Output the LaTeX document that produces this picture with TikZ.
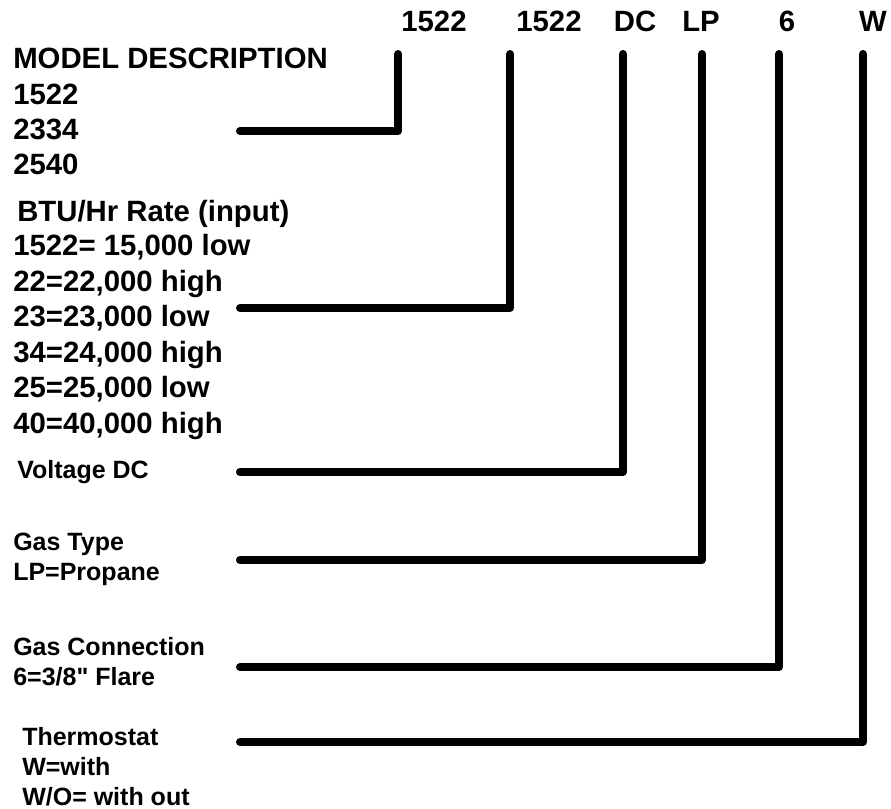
\documentclass[tikz,border=0pt]{standalone}
\usepackage{fontspec}
\setmainfont{Liberation Sans}[Ligatures=TeXOff]
\usetikzlibrary{positioning}

\begin{document}
\begin{tikzpicture}[x=0.75pt, y=-0.75pt,
    lead/.style={line width=6pt, line cap=round, line join=round},
    big/.style={font=\bfseries\fontsize{22}{26.6}\selectfont, inner sep=0pt, anchor=base west, align=left},
    small/.style={font=\bfseries\fontsize{18.75}{22.5}\selectfont, inner sep=0pt, anchor=base west, align=left},
    code/.style={font=\bfseries\fontsize{22}{26.6}\selectfont, inner sep=0pt, anchor=base}]
    \useasboundingbox (0,0) rectangle (891,809);

    % model number fields across the top
    \node[code] (h1) at (434,32) {1522};
    \node[code] (h2) at (549,32) {1522};
    \node[code] (h3) at (635,32) {DC};
    \node[code] (h4) at (701,32) {LP};
    \node[code] (h5) at (787,32) {6};
    \node[code] (h6) at (873,32) {W};

    % descriptions on the left (placed by the baseline of the last line)
    \node[big] (model) at (13,175) {MODEL DESCRIPTION\\1522\\2334\\2540};
    \node[big] (rate) at (17,222) {BTU/Hr Rate (input)};
    \node[big] (rates) at (13,433) {1522= 15,000 low\\22=22,000 high\\23=23,000 low\\34=24,000 high\\25=25,000 low\\40=40,000 high};
    \node[small] (volt) at (17,478) {Voltage DC};
    \node[small] (gas) at (13,580) {Gas Type\\LP=Propane};
    \node[small] (conn) at (13,685) {Gas Connection\\6=3/8" Flare};
    \node[small] (thermo) at (22,805) {Thermostat\\W=with\\W/O= with out};

    % lead lines
    \coordinate (a1) at (240,131);  \coordinate (t1) at (398,54);
    \coordinate (a2) at (240,308);  \coordinate (t2) at (510,54);
    \coordinate (a3) at (240,472);  \coordinate (t3) at (623,54);
    \coordinate (a4) at (240,560);  \coordinate (t4) at (702,54);
    \coordinate (a5) at (240,667);  \coordinate (t5) at (779,54);
    \coordinate (a6) at (240,742);  \coordinate (t6) at (863,54);
    \draw[lead] (a1) -| (t1);
    \draw[lead] (a2) -| (t2);
    \draw[lead] (a3) -| (t3);
    \draw[lead] (a4) -| (t4);
    \draw[lead] (a5) -| (t5);
    \draw[lead] (a6) -| (t6);
\end{tikzpicture}
\end{document}
